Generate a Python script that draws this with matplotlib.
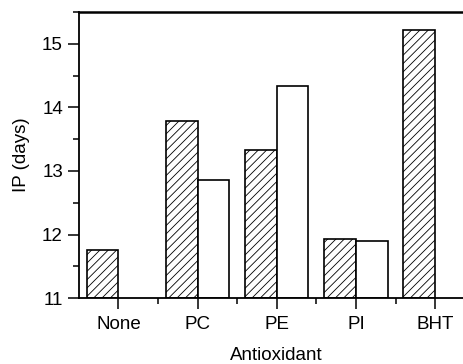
import numpy as np
import matplotlib
matplotlib.use("Agg")
import matplotlib.pyplot as plt
from matplotlib.ticker import MultipleLocator

plt.rcParams['font.family'] = ['Liberation Sans', 'DejaVu Sans']
plt.rcParams['hatch.linewidth'] = 0.6

# data
categories = ['None', 'PC', 'PE', 'PI', 'BHT']
hatched_vals = [11.76, 13.79, 13.33, 11.93, 15.22]
open_vals = [np.nan, 12.85, 14.34, 11.90, np.nan]

fig = plt.figure(figsize=(4.64, 3.64), dpi=100)
ax = fig.add_axes([0.170, 0.181, 0.853, 0.786])

x = np.arange(1, len(categories) + 1)
w = 0.4
ax.bar(x - w, np.array(hatched_vals) - 11, width=w, bottom=11, align='edge',
       facecolor='white', edgecolor='black', linewidth=1.2, hatch='////')
ax.bar(x, np.array(open_vals) - 11, width=w, bottom=11, align='edge',
       facecolor='white', edgecolor='black', linewidth=1.2)

ax.set_xlim(0.5, 5.5)
ax.set_ylim(11, 15.5)
ax.set_xticks(x)
ax.set_xticklabels(categories)
ax.xaxis.set_minor_locator(plt.FixedLocator([1.5, 2.5, 3.5, 4.5]))
ax.yaxis.set_major_locator(MultipleLocator(1))
ax.yaxis.set_minor_locator(MultipleLocator(0.5))

ax.tick_params(which='major', direction='out', length=8, width=1.1, labelsize=13.5)
ax.tick_params(which='minor', direction='out', length=4, width=1.1)
ax.tick_params(top=False, right=False, which='both')
ax.tick_params(axis='x', which='major', pad=5)

for s in ['left', 'bottom']:
    ax.spines[s].set_linewidth(1.3)
ax.spines['top'].set_linewidth(1.8)
ax.spines['right'].set_visible(False)

ax.set_xlabel('Antioxidant', fontsize=13.5, labelpad=10)
ax.set_ylabel('IP (days)', fontsize=13.5, labelpad=9)

fig.savefig('out.png', dpi=100)
